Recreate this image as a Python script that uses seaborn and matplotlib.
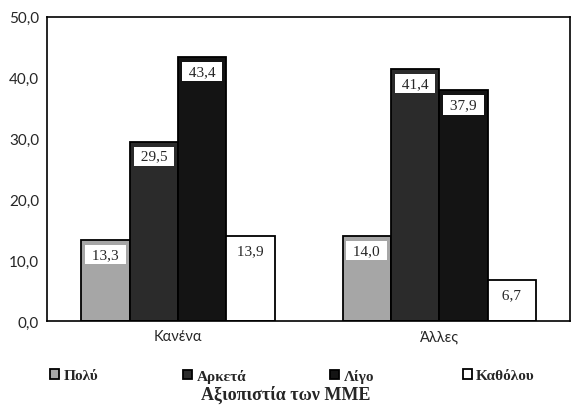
import pandas as pd
import seaborn as sns
import matplotlib.pyplot as plt

# data
categories = ['Κανένα', 'Άλλες']
levels = ['Πολύ', 'Αρκετά', 'Λίγο', 'Καθόλου']
polu = [13.3, 14.0]
arketa = [29.5, 41.4]
ligo = [43.4, 37.9]
katholou = [13.9, 6.7]
yticks = [0, 10, 20, 30, 40, 50]

df = pd.DataFrame({
    'media': categories * 4,
    'level': [l for l in levels for _ in categories],
    'value': polu + arketa + ligo + katholou,
})

colors = ['#a6a6a6', '#2b2b2b', '#141414', '#ffffff']
legend_x = [0.088, 0.321, 0.578, 0.810]  # left edge of each legend entry

sns.set_theme(style='white')
plt.rcParams['font.family'] = ['Liberation Serif', 'DejaVu Serif']

fig = plt.figure(figsize=(5.71, 4.06), dpi=100)
ax = fig.add_axes([0.083, 0.207, 0.915, 0.749])

sns.barplot(data=df, x='media', y='value', hue='level', hue_order=levels,
            palette=colors, width=0.74, saturation=1, edgecolor='black',
            linewidth=1.3, ax=ax, legend=True)

# value labels in white boxes, just under the top of each bar
for cont in ax.containers:
    for bar in cont:
        h = bar.get_height()
        ax.annotate(' ' + f'{h:.1f}'.replace('.', ',') + ' ',
                    (bar.get_x() + bar.get_width() / 2, h),
                    xytext=(0, -10.5), textcoords='offset points',
                    ha='center', va='center', fontsize=11,
                    bbox=dict(boxstyle='square,pad=0.2', fc='white', ec='none'))

ax.set_ylim(0, 50)
ax.set_yticks(yticks)
ax.set_yticklabels([f'{v:.1f}'.replace('.', ',') for v in yticks],
                   family=['Lato', 'DejaVu Sans'], fontsize=11)
ax.set_xticklabels(categories, family=['Lato', 'DejaVu Sans'], fontsize=10.5)
ax.set_xlabel('')
ax.set_ylabel('')
ax.tick_params(axis='both', length=0, pad=6)
for s in ax.spines.values():
    s.set_color('black')
    s.set_linewidth(1.2)

handles, labels = ax.get_legend_handles_labels()
ax.legend_.remove()
# one legend per entry so the spacing follows the reference
for h, lab, x in zip(handles, labels, legend_x):
    fig.legend([h], [lab], frameon=False, loc='center left',
               bbox_to_anchor=(x, 0.072), borderaxespad=0, borderpad=0,
               handlelength=0.6, handleheight=0.6, handletextpad=0.3,
               prop={'weight': 'bold', 'size': 11})

fig.text(0.5, 0.027, 'Αξιοπιστία των ΜΜΕ', ha='center', va='center',
         fontsize=13, fontweight='bold')

fig.savefig('out.png', dpi=100)
